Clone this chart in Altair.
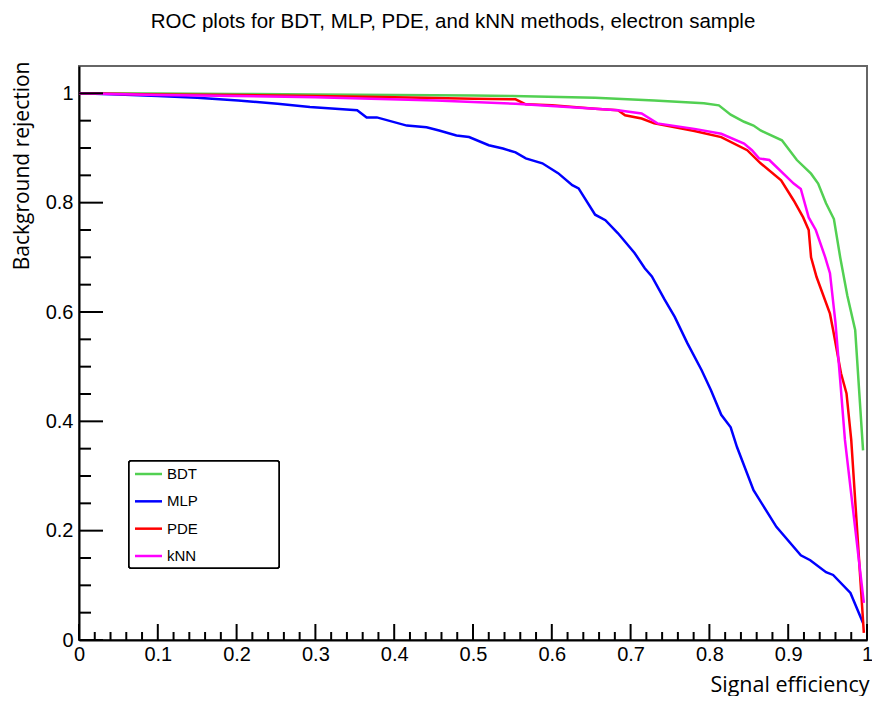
import altair as alt
import pandas as pd

# ---------------- data ----------------
series = ["BDT", "MLP", "PDE", "kNN"]
colors = ["#52d052", "#0000ff", "#ff0000", "#ff00ff"]

bdt_x = [0, 0.1, 0.2, 0.3, 0.4, 0.5, 0.55, 0.655, 0.73, 0.793, 0.812, 0.827, 0.844, 0.856,
         0.865, 0.892, 0.911, 0.929, 0.938, 0.948, 0.958, 0.966, 0.975, 0.985, 0.995]
bdt_y = [1.0, 0.9995, 0.999, 0.998, 0.997, 0.996, 0.995, 0.992, 0.987, 0.982, 0.978, 0.961, 0.948, 0.941,
         0.932, 0.914, 0.878, 0.853, 0.835, 0.799, 0.77, 0.70, 0.63, 0.567, 0.347]

mlp_x = [0, 0.05, 0.1, 0.15, 0.202, 0.252, 0.293, 0.353, 0.365, 0.378, 0.416, 0.441, 0.457, 0.479,
         0.495, 0.520, 0.538, 0.554, 0.567, 0.588, 0.608, 0.626, 0.634, 0.655, 0.668, 0.684, 0.705,
         0.718, 0.727, 0.743, 0.756, 0.772, 0.790, 0.802, 0.815, 0.827, 0.835, 0.856, 0.885, 0.916,
         0.928, 0.948, 0.957, 0.979, 0.995]
mlp_y = [1.0, 0.998, 0.995, 0.992, 0.987, 0.981, 0.975, 0.969, 0.956, 0.956, 0.941, 0.938, 0.932, 0.923,
         0.920, 0.905, 0.899, 0.892, 0.881, 0.872, 0.854, 0.832, 0.826, 0.778, 0.768, 0.744, 0.708,
         0.680, 0.665, 0.623, 0.591, 0.543, 0.494, 0.457, 0.412, 0.389, 0.353, 0.274, 0.207, 0.155,
         0.146, 0.124, 0.119, 0.086, 0.031]

pde_x = [0, 0.1, 0.2, 0.3, 0.4, 0.5, 0.554, 0.567, 0.6, 0.655, 0.684, 0.693, 0.714, 0.730, 0.781,
         0.815, 0.848, 0.865, 0.891, 0.907, 0.919, 0.926, 0.929, 0.936, 0.953, 0.957, 0.967, 0.974,
         0.980, 0.996]
pde_y = [1.0, 0.998, 0.997, 0.995, 0.993, 0.990, 0.989, 0.980, 0.978, 0.972, 0.969, 0.960, 0.954, 0.945,
         0.931, 0.920, 0.896, 0.872, 0.841, 0.804, 0.773, 0.750, 0.700, 0.664, 0.597, 0.567, 0.488,
         0.451, 0.366, 0.013]

knn_x = [0, 0.1, 0.2, 0.3, 0.453, 0.554, 0.655, 0.684, 0.714, 0.734, 0.781, 0.815, 0.844, 0.854,
         0.863, 0.876, 0.907, 0.916, 0.926, 0.935, 0.947, 0.953, 0.960, 0.966, 0.972, 0.996]
knn_y = [1.0, 0.997, 0.995, 0.993, 0.987, 0.981, 0.972, 0.969, 0.963, 0.945, 0.935, 0.926, 0.908, 0.896,
         0.881, 0.878, 0.835, 0.825, 0.773, 0.750, 0.700, 0.671, 0.580, 0.475, 0.366, 0.068]

x_major = [0, 0.1, 0.2, 0.3, 0.4, 0.5, 0.6, 0.7, 0.8, 0.9, 1.0]
x_minor = [0.02, 0.04, 0.06, 0.08, 0.12, 0.14, 0.16, 0.18, 0.22, 0.24, 0.26, 0.28,
           0.32, 0.34, 0.36, 0.38, 0.42, 0.44, 0.46, 0.48, 0.52, 0.54, 0.56, 0.58,
           0.62, 0.64, 0.66, 0.68, 0.72, 0.74, 0.76, 0.78, 0.82, 0.84, 0.86, 0.88,
           0.92, 0.94, 0.96, 0.98]
y_major = [0, 0.2, 0.4, 0.6, 0.8, 1.0]
y_minor = [0.05, 0.1, 0.15, 0.25, 0.3, 0.35, 0.45, 0.5, 0.55, 0.65, 0.7, 0.75,
           0.85, 0.9, 0.95]

title_text = "ROC plots for BDT, MLP, PDE, and kNN methods, electron sample"
x_title = "Signal efficiency"
y_title = "Background rejection"

# ---------------- tables ----------------
rows = []
for name, xs, ys in [("BDT", bdt_x, bdt_y), ("MLP", mlp_x, mlp_y),
                     ("PDE", pde_x, pde_y), ("kNN", knn_x, knn_y)]:
    for i, (a, b) in enumerate(zip(xs, ys)):
        rows.append({"method": name, "eff": a, "rej": b, "i": i})
df = pd.DataFrame(rows)

xmaj = pd.DataFrame({"eff": x_major})
xmin = pd.DataFrame({"eff": x_minor})
ymaj = pd.DataFrame({"rej": y_major})
ymin = pd.DataFrame({"rej": y_minor})
leg = pd.DataFrame({"method": series})

W, H = 788, 574
LABEL_FONT = "Liberation Sans"
TITLE_FONT = "Open Sans"

xscale = alt.Scale(domain=[0, 1], nice=False, zero=False)
yscale = alt.Scale(domain=[0, 1.05], nice=False, zero=False)
cscale = alt.Scale(domain=series, range=colors)

xaxis = alt.Axis(values=x_major, format="~g", ticks=False, grid=False,
                 domain=True, domainColor="black", domainWidth=2,
                 labelFont=LABEL_FONT, labelFontSize=20, labelColor="black",
                 labelPadding=4, labelFlush=False, labelOverlap=False,
                 title=x_title, titleFont=TITLE_FONT, titleFontSize=21.5,
                 titleFontWeight="normal", titleColor="black",
                 titleAnchor="end", titleAlign="right", titleBaseline="alphabetic",
                 titleX=W + 2, titleY=51)
yaxis = alt.Axis(values=y_major, format="~g", ticks=False, grid=False,
                 domain=True, domainColor="black", domainWidth=2,
                 labelFont=LABEL_FONT, labelFontSize=20, labelColor="black",
                 labelPadding=6, labelFlush=False, labelOverlap=False,
                 title=y_title, titleFont=TITLE_FONT, titleFontSize=21,
                 titleFontWeight="normal", titleColor="black",
                 titleAngle=270, titleAlign="right", titleBaseline="alphabetic",
                 titleX=-51, titleY=-5)


def X():
    return alt.X("eff:Q", scale=xscale, axis=xaxis)


def Y():
    return alt.Y("rej:Q", scale=yscale, axis=yaxis)


lines = alt.Chart(df).mark_line(strokeWidth=2.5, clip=True).encode(
    x=X(), y=Y(),
    color=alt.Color("method:N", sort=series, scale=cscale, legend=None),
    order="i:Q",
)

xt_major = alt.Chart(xmaj).mark_rule(color="black", strokeWidth=2).encode(
    x=X(), y=alt.value(H), y2=alt.value(H - 16))
xt_minor = alt.Chart(xmin).mark_rule(color="black", strokeWidth=2).encode(
    x=X(), y=alt.value(H), y2=alt.value(H - 8))
yt_major = alt.Chart(ymaj).mark_rule(color="black", strokeWidth=2).encode(
    y=Y(), x=alt.value(0), x2=alt.value(24))
yt_minor = alt.Chart(ymin).mark_rule(color="black", strokeWidth=2).encode(
    y=Y(), x=alt.value(0), x2=alt.value(12))

plot = alt.layer(lines, xt_major, xt_minor, yt_major, yt_minor)

# ---- legend (box + entries) ----
leg_y = alt.Y("method:N", sort=series,
              scale=alt.Scale(type="point", domain=series, range=[408, 490], padding=0),
              axis=None)
leg_box = alt.Chart(leg).mark_rect(fill="white", stroke="black", strokeWidth=1.5,
                                   cornerRadius=2).encode(
    x=alt.value(50), x2=alt.value(200), y=alt.value(395), y2=alt.value(502))
leg_sym = alt.Chart(leg).mark_rule(strokeWidth=2.5).encode(
    x=alt.value(56), x2=alt.value(83), y=leg_y,
    color=alt.Color("method:N", sort=series, scale=cscale, legend=None))
leg_txt = alt.Chart(leg).mark_text(align="left", baseline="middle", font=LABEL_FONT,
                                   fontSize=15, color="black").encode(
    x=alt.value(88), y=leg_y, text="method:N")
legend = alt.layer(leg_box, leg_sym, leg_txt)

chart = alt.layer(plot, legend).resolve_scale(y="independent").properties(
    width=W, height=H,
    title=alt.Title(title_text, font=LABEL_FONT, fontSize=20.5, fontWeight="normal",
                    color="black", anchor="middle", dx=-20, dy=3, offset=16,
                    baseline="alphabetic"),
    autosize=alt.AutoSizeParams(type="none"),
    padding={"left": 71, "top": 58, "right": 5, "bottom": 56},
).configure_view(stroke="#666666", strokeWidth=2)

chart.save("out.html", embed_options={"renderer": "svg", "actions": False})
